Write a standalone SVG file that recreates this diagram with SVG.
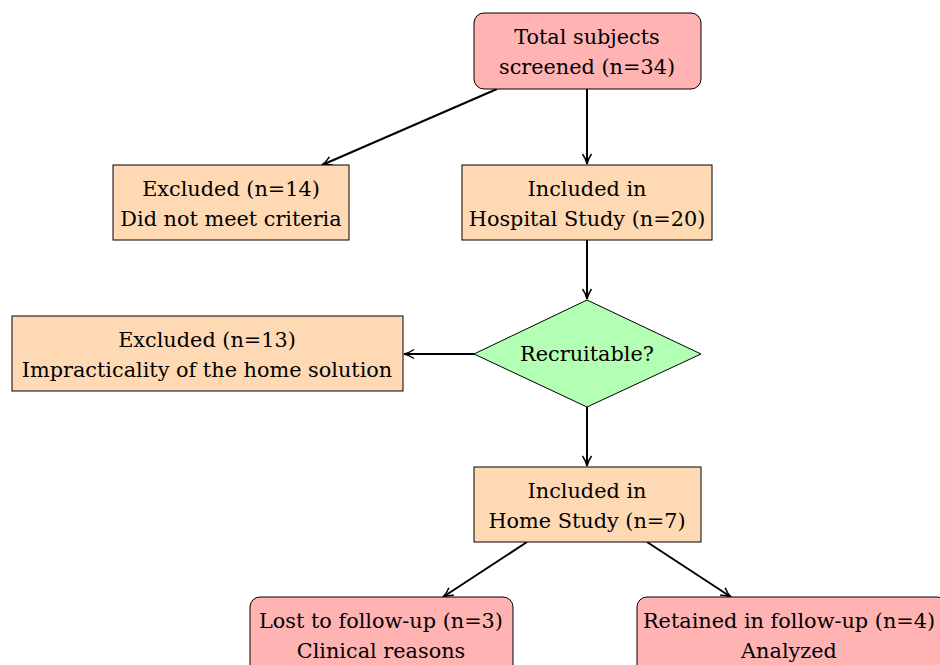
<svg xmlns="http://www.w3.org/2000/svg" width="940" height="665" viewBox="0 0 940 665">
<defs>
<marker id="ah" viewBox="0 0 12 12" refX="11" refY="6" markerWidth="12" markerHeight="12" markerUnits="userSpaceOnUse" orient="auto">
<path d="M1,1.5 Q6,5 11,6 Q6,7 1,10.5" fill="none" stroke="#000" stroke-width="1.5"/>
</marker>
<style>
.pink{fill:#FFB3B3;stroke:#000;stroke-width:1}
.peach{fill:#FFD9B3;stroke:#000;stroke-width:1}
.green{fill:#B3FFB3;stroke:#000;stroke-width:1}
text{font-family:"DejaVu Serif","Liberation Serif",serif;font-size:20.8px;fill:#000;text-anchor:middle}
.c line{stroke:#000;stroke-width:2;marker-end:url(#ah)}
</style>
</defs>
<rect width="940" height="665" fill="#fff"/>
<g class="c">
<line x1="497" y1="89" x2="322" y2="165"/>
<line x1="587" y1="89" x2="587" y2="164"/>
<line x1="587" y1="240" x2="587" y2="299"/>
<line x1="474" y1="354" x2="404" y2="354"/>
<line x1="587" y1="407" x2="587" y2="466"/>
<line x1="527" y1="542" x2="443" y2="597"/>
<line x1="647" y1="542" x2="731" y2="597"/>
</g>
<g id="total">
<rect class="pink" x="474" y="13" width="227" height="76" rx="10"/>
<text x="587" y="44">Total subjects</text>
<text x="587" y="74">screened (n=34)</text>
</g>
<g id="excl14">
<rect class="peach" x="113" y="165" width="236" height="75"/>
<text x="231" y="196">Excluded (n=14)</text>
<text x="231" y="226">Did not meet criteria</text>
</g>
<g id="hospital">
<rect class="peach" x="462" y="165" width="250" height="75"/>
<text x="587" y="196">Included in</text>
<text x="587" y="226">Hospital Study (n=20)</text>
</g>
<g id="recruitable">
<polygon class="green" points="587,300 701,354 587,407 474,354"/>
<text x="587" y="361">Recruitable?</text>
</g>
<g id="excl13">
<rect class="peach" x="12" y="316" width="391" height="75"/>
<text x="207" y="347">Excluded (n=13)</text>
<text x="207" y="377">Impracticality of the home solution</text>
</g>
<g id="home">
<rect class="peach" x="474" y="467" width="227" height="75"/>
<text x="587" y="498">Included in</text>
<text x="587" y="528">Home Study (n=7)</text>
</g>
<g id="lost">
<rect class="pink" x="250" y="597" width="263" height="80" rx="10"/>
<text x="381" y="628">Lost to follow-up (n=3)</text>
<text x="381" y="658">Clinical reasons</text>
</g>
<g id="retained">
<rect class="pink" x="637" y="597" width="310" height="80" rx="10"/>
<text x="789" y="628">Retained in follow-up (n=4)</text>
<text x="789" y="658">Analyzed</text>
</g>
</svg>
